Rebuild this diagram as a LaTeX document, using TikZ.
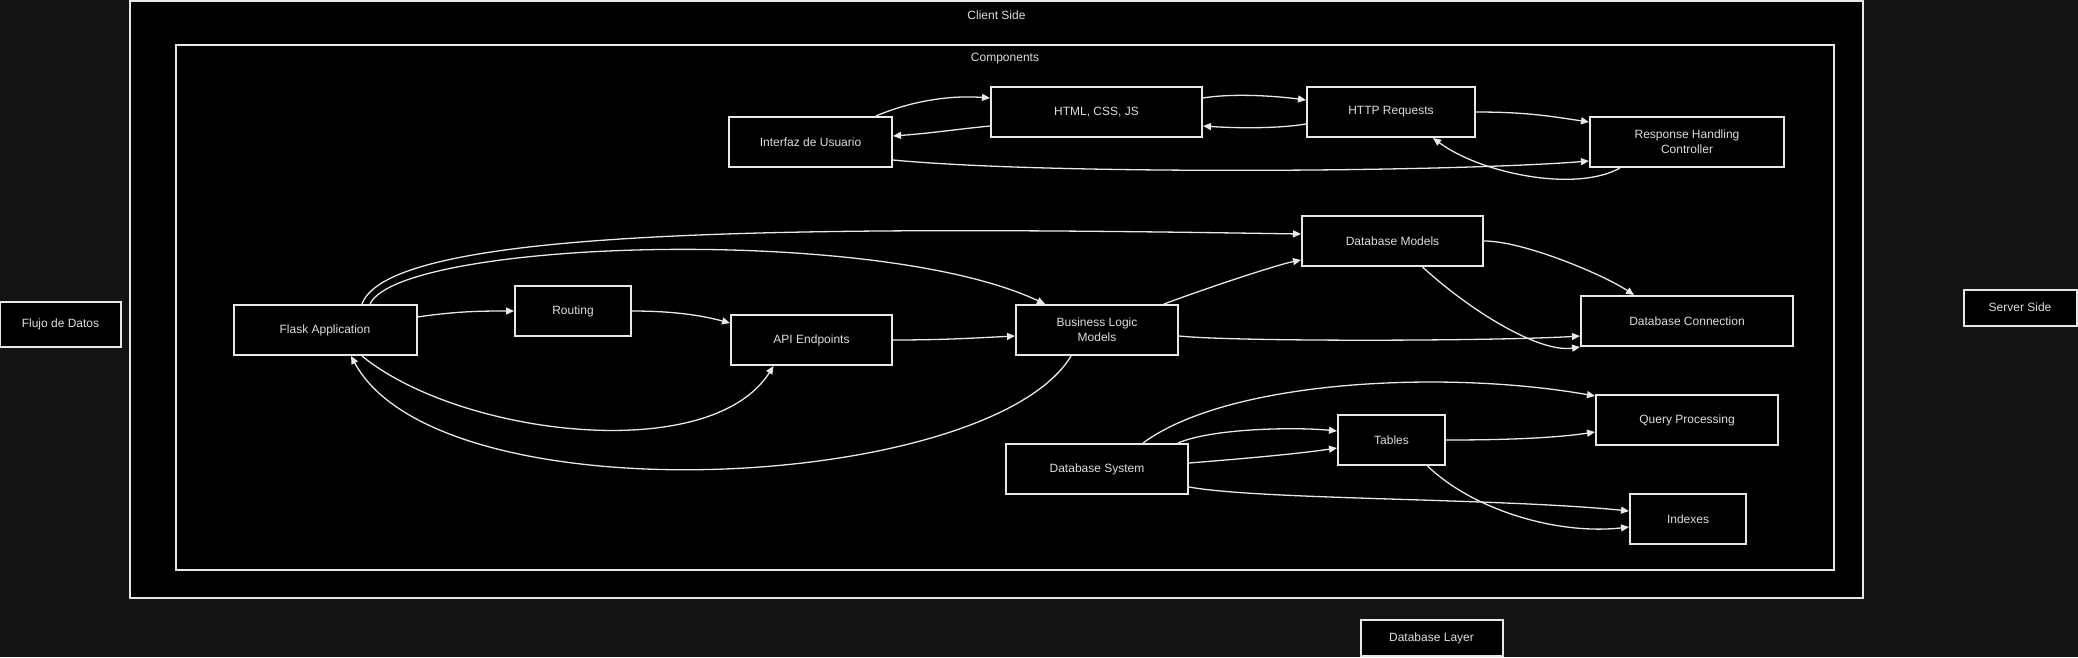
\documentclass[tikz,border=0pt]{standalone}
\usepackage{fontspec}
\setmainfont{Liberation Sans}
\usetikzlibrary{positioning,calc,arrows.meta}
\definecolor{bgdark}{HTML}{131313}
\definecolor{edgec}{HTML}{E8E8E8}
\definecolor{txtc}{HTML}{DDDDDD}
\begin{document}
\begin{tikzpicture}[x=1pt, y=-1pt, font=\fontsize{12}{15}\selectfont]
\tikzset{
  frame/.style={draw=edgec, fill=black, line width=2pt, inner sep=0pt},
  box/.style={draw=edgec, fill=black, line width=2pt, minimum height=50pt, inner sep=2pt, text=txtc, align=center},
  tag/.style={box, minimum height=36pt},
  title/.style={text=txtc, inner sep=0pt},
  flow/.style={draw=edgec, line width=1.3pt, -{Triangle[length=8pt,width=7pt]}}
}
\fill[bgdark] (0,0) rectangle (2078,657);
\useasboundingbox (0,0) rectangle (2078,657);
% subgraphs
\node[frame, minimum width=1733pt, minimum height=597pt] (client) at (996.5,299.5) {};
\node[title] at (996.5,15) {Client Side};
\node[frame, minimum width=1658pt, minimum height=525pt] (comp) at (1005,307.5) {};
\node[title] at (1005,59) {Components};
% loose nodes
\node[tag, minimum width=121pt, minimum height=45pt] (flujo) at (60.5,324) {Flujo de Datos};
\node[tag, minimum width=113pt] (server) at (2020,307.5) {Server Side};
\node[tag, minimum width=142pt] (dblayer) at (1431.5,638) {Database Layer};
% front end
\node[box, minimum width=163pt] (ui) at (810.5,142) {Interfaz de Usuario};
\node[box, minimum width=211pt] (html) at (1096.5,112) {HTML, CSS, JS};
\node[box, minimum width=168pt] (http) at (1391,112) {HTTP Requests};
\node[box, minimum width=194pt] (resp) at (1687,142) {Response Handling\\Controller};
% back end
\node[box, minimum width=183pt] (flask) at (325,330) {Flask Application};
\node[box, minimum width=116pt] (routing) at (573,311) {Routing};
\node[box, minimum width=161pt] (api) at (811.5,340) {API Endpoints};
\node[box, minimum width=162pt] (logic) at (1097,330) {Business Logic\\Models};
\node[box, minimum width=181pt] (dbmod) at (1392.5,241) {Database Models};
\node[box, minimum width=212pt] (dbconn) at (1687,321) {Database Connection};
% database
\node[box, minimum width=182pt] (dbsys) at (1097,469) {Database System};
\node[box, minimum width=107pt] (tables) at (1391.5,440) {Tables};
\node[box, minimum width=182pt] (query) at (1687,420) {Query Processing};
\node[box, minimum width=116pt] (indexes) at (1688,519) {Indexes};
% front end flows
\draw[flow] ($(ui.north)+(65.5,0)$) .. controls +(35,-15) and +(-40,-3) .. ($(html.west)+(0,-14)$);
\draw[flow] ($(html.west)+(0,14)$) .. controls +(-40,4) and +(40,-3) .. ($(ui.east)+(0,-6)$);
\draw[flow] ($(html.east)+(0,-14)$) .. controls +(30,-5) and +(-30,-4) .. ($(http.west)+(0,-12)$);
\draw[flow] ($(http.west)+(0,12)$) .. controls +(-30,5) and +(30,2) .. ($(html.east)+(0,14)$);
\draw[flow] (http.east) .. controls +(50,0) and +(-40,-6) .. ($(resp.west)+(0,-20)$);
\draw[flow] ($(resp.south)+(-67,0)$) .. controls +(-45,25) and +(47,35) .. ($(http.south)+(42,0)$);
\draw[flow] ($(ui.east)+(0,18)$) .. controls +(158,15) and +(-140,11) .. ($(resp.west)+(0,19)$);
% back end flows
\draw[flow] ($(flask.north)+(37,0)$) .. controls +(28,-77) and +(-502,-8) .. ($(dbmod.west)+(0,-7)$);
\draw[flow] ($(flask.north)+(45,0)$) .. controls +(30,-64) and +(-170,-80) .. ($(logic.north)+(-52,0)$);
\draw[flow] ($(flask.east)+(0,-13)$) .. controls +(40,-6) and +(-30,0) .. (routing.west);
\draw[flow] (routing.east) .. controls +(40,0) and +(-30,-8) .. ($(api.west)+(0,-17)$);
\draw[flow] (api.east) .. controls +(50,0) and +(-40,2) .. ($(logic.west)+(0,6)$);
\draw[flow] ($(flask.south)+(37,0)$) .. controls +(98,80) and +(-63,100) .. ($(api.south)+(-38,0)$);
\draw[flow] ($(logic.south)+(-26,0)$) .. controls +(-81,135) and +(89,165) .. ($(flask.south)+(26,0)$);
\draw[flow] ($(logic.north)+(67,0)$) .. controls +(40,-15) and +(-25,5) .. ($(dbmod.west)+(0,19)$);
\draw[flow] ($(logic.east)+(0,6)$) .. controls +(60,6) and +(-80,5) .. ($(dbconn.west)+(0,15)$);
\draw[flow] (dbmod.east) .. controls +(40,0) and +(-30,-20) .. ($(dbconn.north)+(-53,0)$);
\draw[flow] ($(dbmod.south)+(30,0)$) .. controls +(48,44) and +(-41,6) .. (dbconn.south west);
% database flows
\draw[flow] ($(dbsys.north)+(46,0)$) .. controls +(87,-64) and +(-146,-26) .. ($(query.west)+(0,-24)$);
\draw[flow] ($(dbsys.north)+(81,0)$) .. controls +(35,-15) and +(-40,-4) .. ($(tables.west)+(0,-9)$);
\draw[flow] ($(dbsys.east)+(0,-6)$) .. controls +(50,-4) and +(-40,6) .. ($(tables.west)+(0,8)$);
\draw[flow] (tables.east) .. controls +(60,0) and +(-40,6) .. ($(query.west)+(0,12)$);
\draw[flow] ($(dbsys.east)+(0,18)$) .. controls +(72,13) and +(-130,-13) .. ($(indexes.west)+(0,-8)$);
\draw[flow] ($(tables.south)+(36,0)$) .. controls +(47,45) and +(-70,8) .. ($(indexes.west)+(0,8)$);
\end{tikzpicture}
\end{document}
